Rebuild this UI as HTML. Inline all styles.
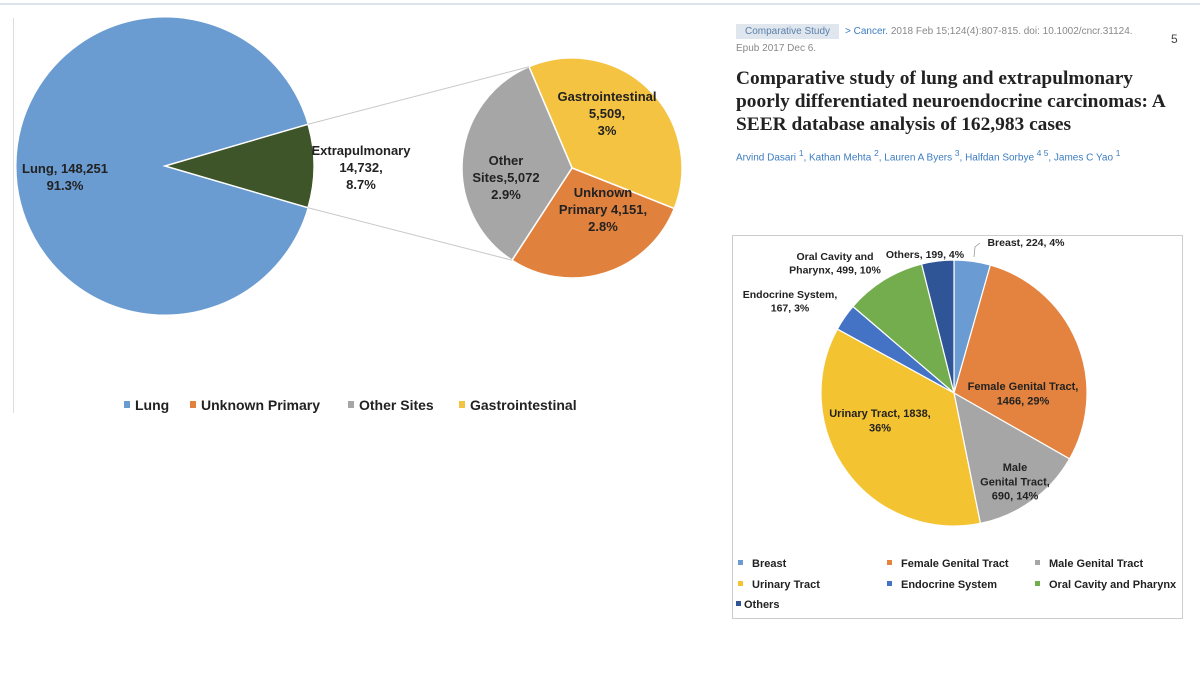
<!DOCTYPE html>
<html><head><meta charset="utf-8"><style>
body{margin:0;width:1200px;height:682px;background:#fff;overflow:hidden;font-family:"Liberation Sans",sans-serif;position:relative}
.t{position:absolute;white-space:nowrap}
svg text{font-family:"Liberation Sans",sans-serif;font-weight:bold;fill:#222}
</style></head><body>
<div style="position:absolute;left:0;top:3px;width:1200px;height:2px;background:#dde3ea"></div>
<div style="position:absolute;left:13px;top:18px;width:1px;height:395px;background:#ddd"></div>

<svg id="left" width="720" height="430" style="position:absolute;left:0;top:0"></svg>

<div class="t" style="left:736px;top:24px;background:#dfe6ee;color:#5a7fa8;font-size:10px;padding:2px 9px">Comparative Study</div>
<div class="t" style="left:845px;top:26px;font-size:10px;color:#888"><span style="color:#3d7cc0">&gt; Cancer.</span> 2018 Feb 15;124(4):807-815. doi: 10.1002/cncr.31124.</div>
<div class="t" style="left:736px;top:43px;font-size:10px;color:#888">Epub 2017 Dec 6.</div>
<div class="t" style="left:1171px;top:32px;font-size:12px;color:#444">5</div>
<div class="t" style="left:736px;top:67px;font-family:'Liberation Serif',serif;font-weight:bold;font-size:19.4px;line-height:23px;color:#222">Comparative study of lung and extrapulmonary<br>poorly differentiated neuroendocrine carcinomas: A<br>SEER database analysis of 162,983 cases</div>
<div class="t" style="left:736px;top:148px;font-size:10px;color:#3d7cc0">Arvind Dasari <sup>1</sup>, Kathan Mehta <sup>2</sup>, Lauren A Byers <sup>3</sup>, Halfdan Sorbye <sup>4 5</sup>, James C Yao <sup>1</sup></div>

<div style="position:absolute;left:732px;top:235px;width:449px;height:382px;border:1px solid #ccc"></div>
<svg id="right" width="460" height="390" style="position:absolute;left:730px;top:230px"></svg>

<script>
const NS='http://www.w3.org/2000/svg';
function mk(p,tag,a){const e=document.createElementNS(NS,tag);for(const k in a)e.setAttribute(k,a[k]);p.appendChild(e);return e;}
function arc(cx,cy,r,a0,a1){const x0=cx+r*Math.cos(a0),y0=cy+r*Math.sin(a0),x1=cx+r*Math.cos(a1),y1=cy+r*Math.sin(a1);return `M${cx},${cy}L${x0},${y0}A${r},${r} 0 ${a1-a0>Math.PI?1:0} 1 ${x1},${y1}Z`;}
function txt(p,x,y,lines,size,name){const t=mk(p,'text',{x:x,y:y,'font-size':size,'text-anchor':'middle'});lines.forEach((l,i)=>{const s=mk(t,'tspan',{x:x,dy:i?size*1.3:0});s.textContent=l;});}

// Left chart data
const mainCats=['Lung','Extrapulmonary'];
const mainVals=[148251,14732];
const mainPct=['91.3%','8.7%'];
const subCats=['Gastrointestinal','Unknown Primary','Other Sites'];
const subVals=[5509,4151,5072];
const subPct=['3%','2.8%','2.9%'];
const legendCats=['Lung','Unknown Primary','Other Sites','Gastrointestinal'];

const L=document.getElementById('left');
const mainColors=['#6a9bd1','#3e5429'];
const subColors=['#f5c342','#e0813e','#a6a6a6'];
{
  const cx=165,cy=166,r=149;
  const tot=mainVals.reduce((a,b)=>a+b,0);
  const ext=mainVals[1]/tot*2*Math.PI;
  let a=ext/2;
  const lungP=mk(L,'path',{d:arc(cx,cy,r,a,a+2*Math.PI-ext),fill:mainColors[0],stroke:'#fff','stroke-width':1});
  
  const exP=mk(L,'path',{d:arc(cx,cy,r,-ext/2,ext/2),fill:mainColors[1],stroke:'#fff','stroke-width':1.5});
  
  const ux=cx+r*Math.cos(-ext/2),uy=cy+r*Math.sin(-ext/2),lx=cx+r*Math.cos(ext/2),ly=cy+r*Math.sin(ext/2);
  const sx=572,sy=168,sr=110;
  const st=subVals.reduce((a,b)=>a+b,0);
  let s=-113*Math.PI/180;const start=s;
  const bounds=[];
  subVals.forEach((v,i)=>{const e=s+v/st*2*Math.PI;const p=mk(L,'path',{d:arc(sx,sy,sr,s,e),fill:subColors[i],stroke:'#fff','stroke-width':1.5});
    
    bounds.push(s);s=e;});
  const l1=mk(L,'line',{x1:ux,y1:uy,x2:sx+sr*Math.cos(start),y2:sy+sr*Math.sin(start),stroke:'#c8c8c8','stroke-width':1});
  
  const b2=bounds[2];
  const l2=mk(L,'line',{x1:lx,y1:ly,x2:sx+sr*Math.cos(b2),y2:sy+sr*Math.sin(b2),stroke:'#c8c8c8','stroke-width':1});
  
  txt(L,65,173,['Lung, '+mainVals[0].toLocaleString('en-US'),mainPct[0]],13,'label-lung');
  txt(L,361,155,['Extrapulmonary',mainVals[1].toLocaleString('en-US')+',',mainPct[1]],13,'label-extrapulmonary');
  txt(L,607,101,['Gastrointestinal',subVals[0].toLocaleString('en-US')+',',subPct[0]],13,'label-gastrointestinal');
  txt(L,603,197,['Unknown','Primary '+subVals[1].toLocaleString('en-US')+',',subPct[1]],13,'label-unknown-primary');
  txt(L,506,165,['Other','Sites,'+subVals[2].toLocaleString('en-US'),subPct[2]],13,'label-other-sites');
  const legCol={'Lung':'#6a9bd1','Unknown Primary':'#e0813e','Other Sites':'#a6a6a6','Gastrointestinal':'#f5c342'};
  const legX=[124,190,348,459];
  legendCats.forEach((c,i)=>{const g=mk(L,'g',{});
    mk(g,'rect',{x:legX[i],y:401,width:6,height:7,fill:legCol[c]});const t=mk(g,'text',{x:legX[i]+11,y:410,'font-size':14});t.textContent=c;});
}

// Right chart data
const rCats=['Breast','Female Genital Tract','Male Genital Tract','Urinary Tract','Endocrine System','Oral Cavity and Pharynx','Others'];
const rVals=[224,1466,690,1838,167,499,199];
const rPct=['4%','29%','14%','36%','3%','10%','4%'];
const R=document.getElementById('right');
const rColors=['#6b9bd3','#e3833f','#a6a6a6','#f4c331','#4472c4','#73ad4e','#2f5597'];
{
  const cx=224,cy=163,r=133;
  const tot=rVals.reduce((a,b)=>a+b,0);
  let a=-Math.PI/2;
  rVals.forEach((v,i)=>{const e=a+v/tot*2*Math.PI;const p=mk(R,'path',{d:arc(cx,cy,r,a,e),fill:rColors[i],stroke:'#fff','stroke-width':1.2});
    
    a=e;});
  const ln=mk(R,'polyline',{points:'244,27 245,17 250,13',fill:'none',stroke:'#999','stroke-width':0.8});
  
  txt(R,296,16,['Breast, '+rVals[0]+', '+rPct[0]],10.5,'label-breast');
  txt(R,195,28,['Others, '+rVals[6]+', '+rPct[6]],10.5,'label-others');
  txt(R,105,30,['Oral Cavity and','Pharynx, '+rVals[5]+', '+rPct[5]],10.5,'label-oral-cavity');
  txt(R,60,68,['Endocrine System,',rVals[4]+', '+rPct[4]],10.5,'label-endocrine');
  txt(R,293,160,['Female Genital Tract,',rVals[1]+', '+rPct[1]],11,'label-female-genital');
  txt(R,285,241,['Male','Genital Tract,',rVals[2]+', '+rPct[2]],11,'label-male-genital');
  txt(R,150,187,['Urinary Tract, '+rVals[3]+',',rPct[3]],11,'label-urinary');
  const lx=[8,157,305,8,157,305,6],ly=[337,337,337,358,358,358,378];
  rCats.forEach((c,i)=>{const g=mk(R,'g',{});
    mk(g,'rect',{x:lx[i],y:ly[i]-7,width:5,height:5,fill:rColors[i]});const t=mk(g,'text',{x:lx[i]+(i==6?8:14),y:ly[i],'font-size':11});t.textContent=c;});
}
</script>
</body></html>
